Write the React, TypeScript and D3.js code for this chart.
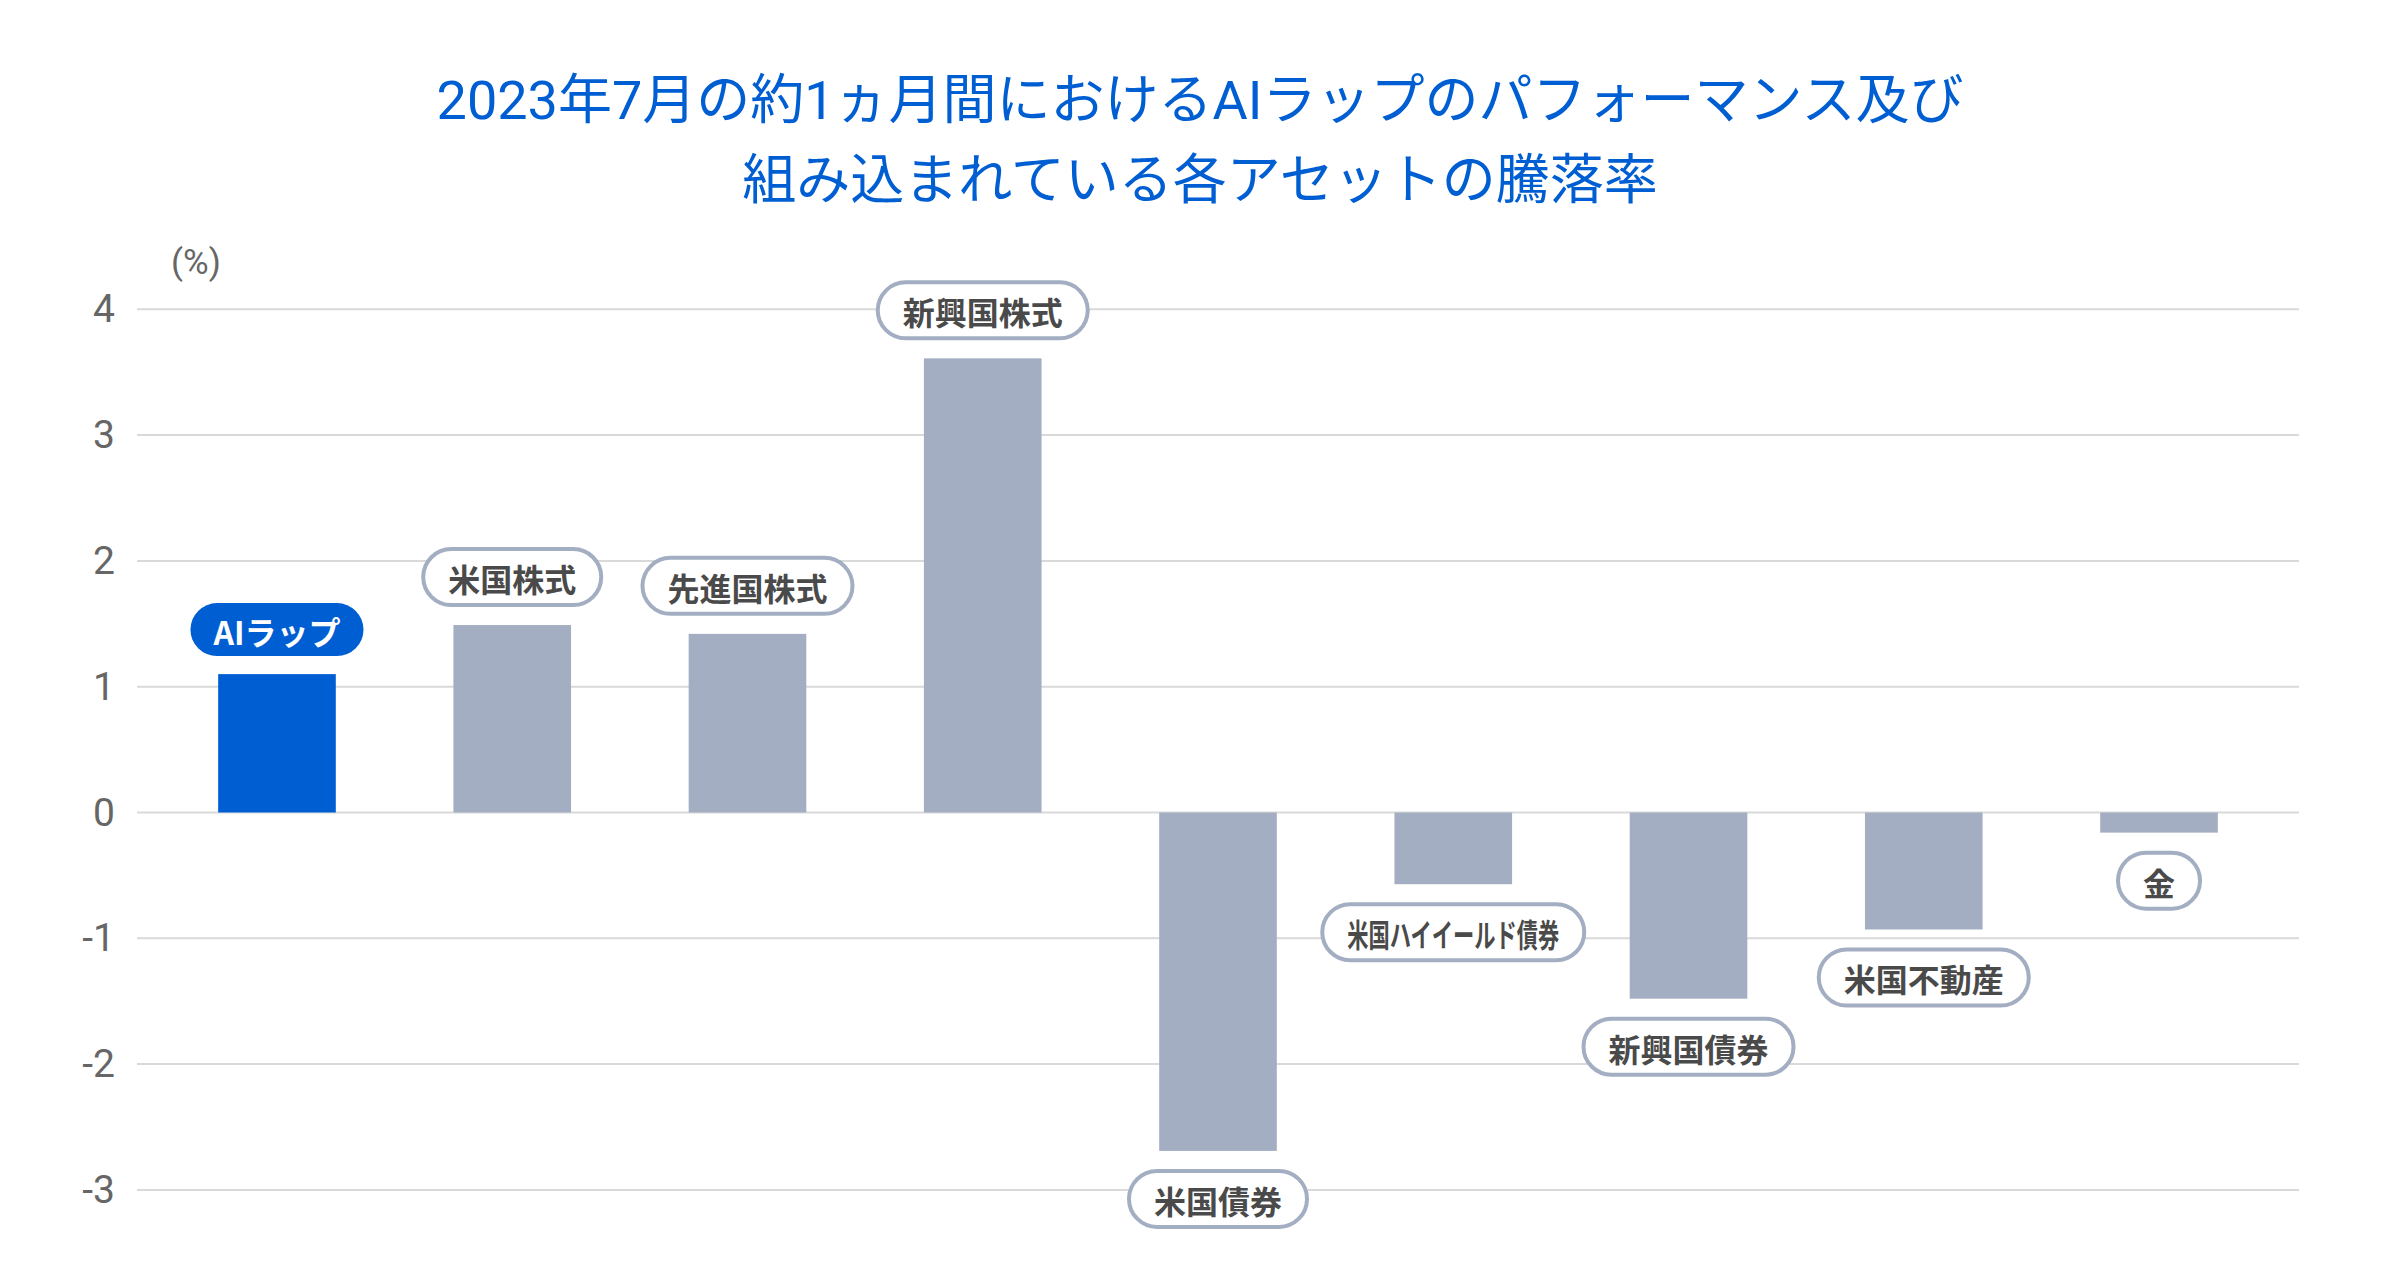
import React, { useEffect, useRef } from "react";
import * as d3 from "d3";

const categories = [
  "AIラップ",
  "米国株式",
  "先進国株式",
  "新興国株式",
  "米国債券",
  "米国ハイイールド債券",
  "新興国債券",
  "米国不動産",
  "金",
];
const values = [1.1, 1.49, 1.42, 3.61, -2.69, -0.57, -1.48, -0.93, -0.16];
const yTicks = [4, 3, 2, 1, 0, -1, -2, -3];
const titleLines = [
  "2023年7月の約1ヵ月間におけるAIラップのパフォーマンス及び",
  "組み込まれている各アセットの騰落率",
];
const unitLabel = "(%)";

const W = 2400;
const H = 1280;
const BLUE = "#005ED3";
const GRAY = "#A3AEC2";

export default function App() {
  const ref = useRef<SVGSVGElement | null>(null);

  useEffect(() => {
    document.body.style.margin = "0";
    const svg = d3.select(ref.current);
    svg.selectAll("*").remove();

    const left = 137;
    const right = 2299;
    const x = d3
      .scaleBand<string>()
      .domain(categories)
      .range([left, right])
      .paddingInner(0.5)
      .paddingOuter(0.345);
    const y = d3.scaleLinear().domain([0, 4]).range([812.5, 309.3]);

    // title
    svg
      .append("g")
      .selectAll("text")
      .data(titleLines)
      .join("text")
      .attr("x", W / 2)
      .attr("y", (_d, i) => 100 + i * 80)
      .attr("text-anchor", "middle")
      .attr("dominant-baseline", "central")
      .attr("font-family", "Roboto, 'Noto Sans CJK JP', sans-serif")
      .attr("font-size", 54)
      .attr("font-weight", 400)
      .attr("fill", BLUE)
      .text((d) => d);

    // grid
    svg
      .append("g")
      .selectAll("line")
      .data(yTicks)
      .join("line")
      .attr("x1", left)
      .attr("x2", right)
      .attr("y1", (d) => y(d))
      .attr("y2", (d) => y(d))
      .attr("stroke", "#D9D9D9")
      .attr("stroke-width", 2);

    // y labels
    svg
      .append("g")
      .selectAll("text")
      .data(yTicks)
      .join("text")
      .attr("x", 115)
      .attr("y", (d) => y(d))
      .attr("text-anchor", "end")
      .attr("dominant-baseline", "central")
      .attr("font-family", "Roboto, sans-serif")
      .attr("font-size", 39)
      .attr("fill", "#666666")
      .text((d) => String(d));

    svg
      .append("text")
      .attr("x", 196)
      .attr("y", 262)
      .attr("text-anchor", "middle")
      .attr("dominant-baseline", "central")
      .attr("font-family", "Roboto, sans-serif")
      .attr("font-size", 35)
      .attr("fill", "#666666")
      .text(unitLabel);

    // bars
    svg
      .append("g")
      .selectAll("rect")
      .data(categories)
      .join("rect")
      .attr("x", (d) => x(d)!)
      .attr("width", x.bandwidth())
      .attr("y", (_d, i) => Math.min(y(values[i]), y(0)))
      .attr("height", (_d, i) => Math.abs(y(values[i]) - y(0)))
      .attr("fill", (_d, i) => (i === 0 ? BLUE : GRAY));

    // labels
    const lg = svg.append("g");
    categories.forEach((c, i) => {
      const v = values[i];
      const isAI = i === 0;
      const h = isAI ? 53 : 56;
      const outer = isAI ? 53 : 60;
      const cx = x(c)! + x.bandwidth() / 2;
      const cy = v >= 0 ? y(v) - 18 - outer / 2 : y(v) + 18 + outer / 2;
      const g = lg.append("g");
      const rect = g.append("rect");
      const t = g
        .append("text")
        .attr("x", cx)
        .attr("y", cy + 1)
        .attr("text-anchor", "middle")
        .attr("dominant-baseline", "central")
        .attr("font-family", "'Noto Sans CJK JP', sans-serif")
        .attr("font-size", 32)
        .attr("font-weight", 700)
        .attr("fill", isAI ? "#FFFFFF" : "#4A4A4A")
        .text(c);
      let tw = (t.node() as SVGTextElement).getComputedTextLength();
      if (c.includes("ハイ")) {
        tw = 212;
        t.attr("textLength", tw).attr("lengthAdjust", "spacingAndGlyphs");
      }
      const w = tw + (isAI ? 46 : 50);
      rect
        .attr("x", cx - w / 2)
        .attr("y", cy - h / 2)
        .attr("width", w)
        .attr("height", h)
        .attr("rx", h / 2)
        .attr("ry", h / 2)
        .attr("fill", isAI ? BLUE : "#FFFFFF")
        .attr("stroke", isAI ? "none" : GRAY)
        .attr("stroke-width", isAI ? 0 : 4);
    });
  }, []);

  return <svg ref={ref} width={W} height={H} style={{ display: "block", background: "#fff" }} />;
}
